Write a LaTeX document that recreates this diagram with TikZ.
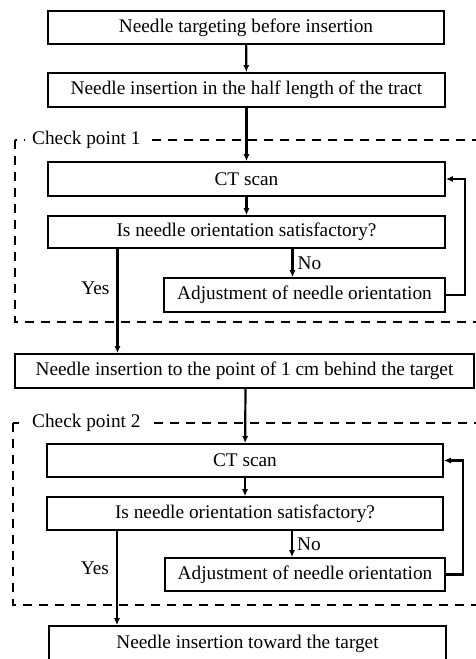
\documentclass[tikz,border=0pt]{standalone}
\usepackage{fontspec}
\setmainfont{Liberation Serif}
\usetikzlibrary{arrows.meta}
\usetikzlibrary{calc}

\begin{document}
\begin{tikzpicture}[x=1pt, y=-1pt,
	box/.style={draw=black, line width=1.7pt, inner sep=0pt, minimum height=33pt},
	line/.style={line width=2.2pt, -{Latex[length=7pt, width=6pt]}},
	frame/.style={draw=black, line width=2.8pt, dash pattern=on 9pt off 7pt},
	every node/.style={font=\fontsize{19.3}{22}\selectfont}]

	\useasboundingbox (0, 0) rectangle (475, 659);

	% check point frames
	\draw[frame] (15, 140) rectangle (490, 322);
	\draw[frame] (13, 423) rectangle (490, 605);

	\node[box, minimum width=396pt] (target) at (246, 27.5) {Needle targeting before insertion};
	\node[box, minimum width=397pt, minimum height=34pt] (half) at (246.5, 90) {Needle insertion in the half length of the tract};

	\node[box, minimum width=397pt, minimum height=34pt] (scan1) at (246.5, 179) {CT scan};
	\node[box, minimum width=397pt, minimum height=32pt] (check1) at (246.5, 232) {Is needle orientation satisfactory?};
	\node[box, minimum width=281pt, minimum height=34pt] (adjust1) at (304.5, 295) {Adjustment of needle orientation};

	\node[box, minimum width=459pt, minimum height=34pt] (behind) at (244.5, 371) {Needle insertion to the point of 1 cm behind the target};

	\node[box, minimum width=396pt] (scan2) at (245, 460.5) {CT scan};
	\node[box, minimum width=396pt] (check2) at (245, 513.5) {Is needle orientation satisfactory?};
	\node[box, minimum width=280pt] (adjust2) at (305, 574.5) {Adjustment of needle orientation};

	\node[box, minimum width=397pt, minimum height=36pt] (toward) at (247.5, 644) {Needle insertion toward the target};

	\node[fill=white, inner sep=7pt, anchor=west] (cp1) at (25, 140) {Check point 1};
	\node[fill=white, inner sep=7pt, anchor=west] (cp2) at (25, 423) {Check point 2};

	\coordinate (no1) at ($(check1.south) + (46, 0)$);
	\coordinate (no2) at ($(check2.south) + (47, 0)$);
	\coordinate (yes1) at ($(check1.south) + (-129, 0)$);
	\coordinate (yes2) at ($(check2.south) + (-128, 0)$);

	\draw[line] (target) -- (half);
	\draw[line] (half) -- (scan1);
	\draw[line] (scan1) -- (check1);
	\draw[line] (no1) -- (no1 |- adjust1.north)
		node [midway, right, inner sep=4pt] {No};
	\draw[line] (adjust1.east) -- ++(19, 0) |- (scan1.east);
	\draw[line] (yes1) -- (yes1 |- behind.north)
		node [pos=0.38, left, inner sep=7pt] {Yes};

	\draw[line] ($(behind.south) + (1, 0)$) -- (scan2);
	\draw[line] (scan2) -- (check2);
	\draw[line] (no2) -- (no2 |- adjust2.north)
		node [midway, right, inner sep=4pt] {No};
	\draw[line] (adjust2.east) -- ++(17, 0) |- (scan2.east);
	\draw[line] (yes2) -- (yes2 |- toward.north)
		node [pos=0.4, left, inner sep=7pt] {Yes};

\end{tikzpicture}
\end{document}
